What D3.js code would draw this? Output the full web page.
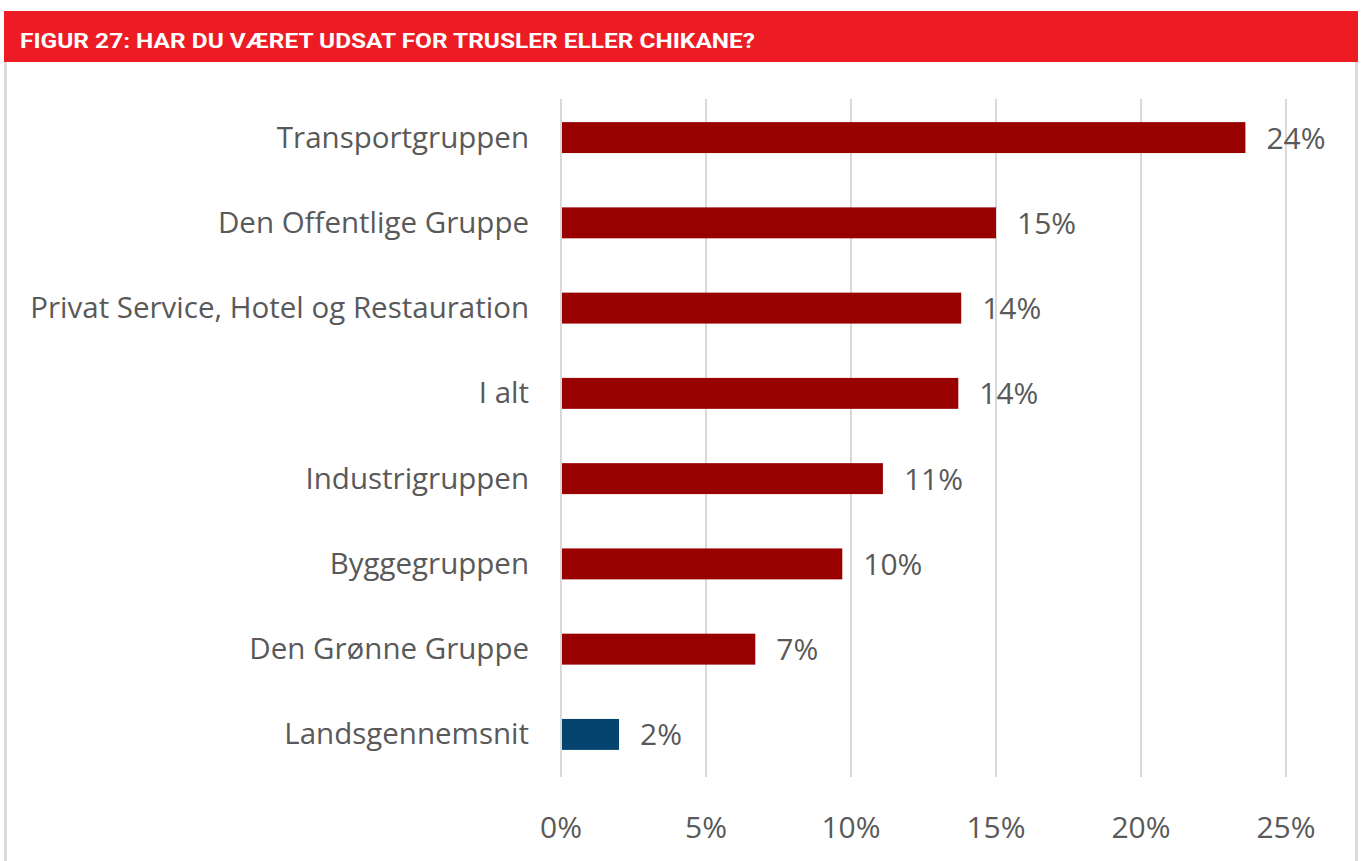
<!DOCTYPE html>
<html>
<head>
<meta charset="utf-8">
<script src="https://cdn.jsdelivr.net/npm/d3@7"></script>
<style>
  html, body { margin: 0; padding: 0; background: #fff; }
  svg { display: block; }
</style>
</head>
<body>
<svg id="chart" width="1362" height="861"></svg>
<script>
const title = "FIGUR 27: HAR DU VÆRET UDSAT FOR TRUSLER ELLER CHIKANE?";
const categories = [
  "Transportgruppen",
  "Den Offentlige Gruppe",
  "Privat Service, Hotel og Restauration",
  "I alt",
  "Industrigruppen",
  "Byggegruppen",
  "Den Grønne Gruppe",
  "Landsgennemsnit"
];
const values = [23.6, 15.0, 13.8, 13.7, 11.1, 9.7, 6.7, 2.0];
const valueLabels = ["24%", "15%", "14%", "14%", "11%", "10%", "7%", "2%"];
const tickValues = [0, 5, 10, 15, 20, 25];
const tickLabels = ["0%", "5%", "10%", "15%", "20%", "25%"];

const svg = d3.select("#chart");
const textGray = "#595959";
const gridGray = "#d9d9d9";

// Header band
svg.append("rect").attr("x", 4).attr("y", 11).attr("width", 1354).attr("height", 51).attr("fill", "#ED1C24");
svg.append("text")
  .attr("x", 20).attr("y", 48)
  .attr("fill", "#fff")
  .attr("font-family", "Roboto, 'Liberation Sans', sans-serif")
  .attr("font-weight", 700)
  .attr("font-size", 20.5)
  .attr("textLength", 735)
  .attr("lengthAdjust", "spacingAndGlyphs")
  .text(title);

// Frame borders
svg.append("line").attr("x1", 5.5).attr("x2", 5.5).attr("y1", 62).attr("y2", 861)
  .attr("stroke", "#dcdcdc").attr("stroke-width", 3);
svg.append("line").attr("x1", 1356.5).attr("x2", 1356.5).attr("y1", 62).attr("y2", 861)
  .attr("stroke", "#dcdcdc").attr("stroke-width", 3);

const x = d3.scaleLinear().domain([0, 25]).range([561, 1286]);
const y = d3.scaleBand().domain(categories).range([95, 777]).paddingInner(0.637).paddingOuter(0.318);

// Gridlines
svg.append("g").selectAll("line").data(tickValues).join("line")
  .attr("x1", d => x(d)).attr("x2", d => x(d))
  .attr("y1", 99).attr("y2", 777)
  .attr("stroke", gridGray).attr("stroke-width", 2);

// X tick labels
svg.append("g").selectAll("text").data(tickValues).join("text")
  .attr("x", d => x(d)).attr("y", 838)
  .attr("text-anchor", "middle")
  .attr("fill", textGray)
  .attr("font-family", "'Open Sans', 'Noto Sans', sans-serif")
  .attr("font-size", 30)
  .text((d, i) => tickLabels[i]);

// Bars
svg.append("g").selectAll("rect").data(categories).join("rect")
  .attr("x", x(0) + 1)
  .attr("y", d => y(d))
  .attr("width", (d, i) => x(values[i]) - x(0) - 1)
  .attr("height", y.bandwidth())
  .attr("fill", (d, i) => i === categories.length - 1 ? "#03436E" : "#990000");

// Value labels
svg.append("g").selectAll("text").data(categories).join("text")
  .attr("x", (d, i) => x(values[i]) + 21)
  .attr("y", d => y(d) + y.bandwidth() / 2 + 11)
  .attr("fill", textGray)
  .attr("font-family", "'Open Sans', 'Noto Sans', sans-serif")
  .attr("font-size", 30)
  .text((d, i) => valueLabels[i]);

// Category labels
svg.append("g").selectAll("text").data(categories).join("text")
  .attr("x", 529)
  .attr("y", d => y(d) + y.bandwidth() / 2 + 10)
  .attr("text-anchor", "end")
  .attr("fill", textGray)
  .attr("font-family", "'Open Sans', 'Noto Sans', sans-serif")
  .attr("font-size", 29.5)
  .text(d => d);
</script>
</body>
</html>
